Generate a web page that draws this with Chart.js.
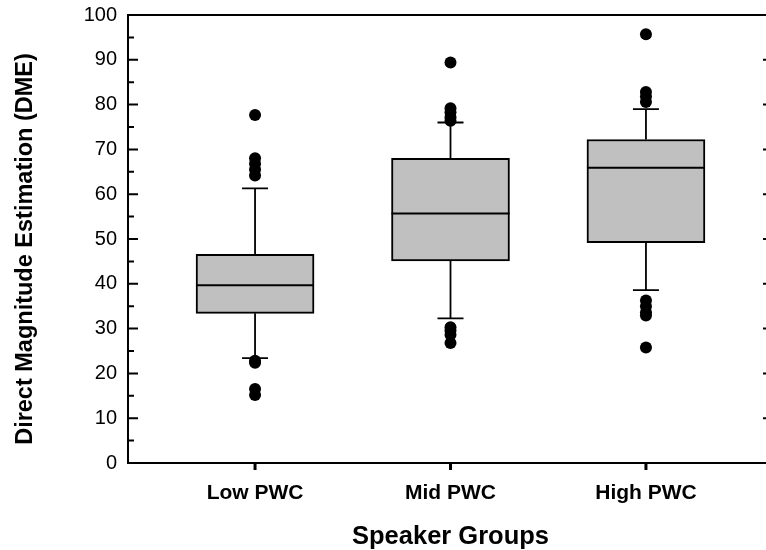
<!DOCTYPE html>
<html>
<head>
<meta charset="utf-8">
<script src="https://cdn.jsdelivr.net/npm/chart.js@4/dist/chart.umd.min.js"></script>
<style>
  html, body { margin: 0; padding: 0; background: #fff; overflow: hidden; }
  #wrap { width: 800px; height: 550px; }
</style>
</head>
<body>
<div id="wrap"><canvas id="boxChart" width="800" height="550"></canvas></div>
<script>
// data
const groups = ["Low PWC", "Mid PWC", "High PWC"];
const q1 = [33.4, 45.1, 49.2];
const median = [39.7, 55.7, 65.9];
const q3 = [46.6, 68.0, 72.2];
const whiskerLow = [23.4, 32.3, 38.6];
const whiskerHigh = [61.3, 76.0, 79.0];
const outliersLow = [77.7, 68.0, 66.8, 65.5, 64.2, 22.8, 22.4, 16.5, 15.2];
const outliersMid = [89.4, 79.2, 78.3, 77.2, 76.4, 30.3, 29.6, 28.6, 26.8];
const outliersHigh = [95.7, 82.8, 81.8, 80.6, 36.3, 35.0, 33.6, 32.9, 25.8];
const yTicks = [0, 10, 20, 30, 40, 50, 60, 70, 80, 90, 100];
const xTitle = "Speaker Groups";
const yTitle = "Direct Magnitude Estimation (DME)";

const FONT = "'Liberation Sans', Arial, sans-serif";

document.addEventListener("DOMContentLoaded", () => {
  const ctx = document.getElementById("boxChart").getContext("2d");

  const outlierPoints = [];
  [outliersLow, outliersMid, outliersHigh].forEach((list, i) => {
    list.forEach(v => outlierPoints.push({ x: i + 1, y: v }));
  });

  // whiskers, caps and medians, drawn right after the boxes
  const boxPlugin = {
    id: "boxExtras",
    afterDatasetDraw(chart, args) {
      if (args.meta.type !== "bar") return;
      const { ctx } = chart;
      const y = chart.scales.y;
      ctx.save();
      ctx.strokeStyle = "#000";
      args.meta.data.forEach((bar, i) => {
        const cx = bar.x;
        const half = bar.width / 2;
        ctx.lineWidth = 2;
        ctx.beginPath();
        ctx.moveTo(cx - half, y.getPixelForValue(median[i]));
        ctx.lineTo(cx + half, y.getPixelForValue(median[i]));
        ctx.stroke();

        ctx.lineWidth = 1.8;
        ctx.beginPath();
        ctx.moveTo(cx, y.getPixelForValue(q3[i]));
        ctx.lineTo(cx, y.getPixelForValue(whiskerHigh[i]));
        ctx.moveTo(cx - 13, y.getPixelForValue(whiskerHigh[i]));
        ctx.lineTo(cx + 13, y.getPixelForValue(whiskerHigh[i]));
        ctx.moveTo(cx, y.getPixelForValue(q1[i]));
        ctx.lineTo(cx, y.getPixelForValue(whiskerLow[i]));
        ctx.moveTo(cx - 13, y.getPixelForValue(whiskerLow[i]));
        ctx.lineTo(cx + 13, y.getPixelForValue(whiskerLow[i]));
        ctx.stroke();
      });
      ctx.restore();
    },
    // frame with inward ticks, plus axis titles
    afterDraw(chart) {
      const { ctx, chartArea: a, scales: { x, y } } = chart;
      ctx.save();
      ctx.strokeStyle = "#000";
      ctx.lineWidth = 2;
      ctx.beginPath();
      ctx.moveTo(a.left, a.top);
      ctx.lineTo(a.right, a.top);
      ctx.lineTo(a.right, a.bottom);
      ctx.lineTo(a.left, a.bottom);
      ctx.closePath();
      ctx.stroke();

      ctx.beginPath();
      yTicks.forEach((v, k) => {
        const py = y.getPixelForValue(v);
        ctx.moveTo(a.left, py); ctx.lineTo(a.left + 10, py);
        ctx.moveTo(a.right, py); ctx.lineTo(a.right - 10, py);
        if (k < yTicks.length - 1) {
          const pm = y.getPixelForValue((v + yTicks[k + 1]) / 2);
          ctx.moveTo(a.left, pm); ctx.lineTo(a.left + 6, pm);
          ctx.moveTo(a.right, pm); ctx.lineTo(a.right - 6, pm);
        }
      });
      ctx.stroke();

      ctx.lineWidth = 3;
      ctx.beginPath();
      groups.forEach((g, i) => {
        const px = x.getPixelForValue(i + 1);
        ctx.moveTo(px, a.bottom); ctx.lineTo(px, a.bottom + 7);
      });
      ctx.stroke();

      ctx.fillStyle = "#000";
      ctx.textAlign = "center";
      ctx.textBaseline = "middle";
      ctx.font = "bold 25.5px " + FONT;
      ctx.fillText(xTitle, (a.left + a.right) / 2, 537);
      ctx.translate(26, 249);
      ctx.rotate(-Math.PI / 2);
      ctx.font = "bold 23.5px " + FONT;
      ctx.fillText(yTitle, 0, 0);
      ctx.restore();
    }
  };

  new Chart(ctx, {
    type: "bar",
    data: {
      datasets: [
        {
          type: "bar",
          label: "IQR",
          data: groups.map((g, i) => ({ x: i + 1, y: [q1[i], q3[i]] })),
          backgroundColor: "#c0c0c0",
          borderColor: "#000",
          borderWidth: 2,
          borderSkipped: false,
          barThickness: 118,
          order: 2
        },
        {
          type: "scatter",
          label: "Outliers",
          data: outlierPoints,
          backgroundColor: "#000",
          borderColor: "#000",
          pointRadius: 6,
          pointBorderWidth: 0,
          order: 1
        }
      ]
    },
    options: {
      responsive: false,
      animation: false,
      layout: { padding: { top: 15, right: 27, left: 0, bottom: 0 } },
      plugins: { legend: { display: false }, tooltip: { enabled: false } },
      scales: {
        x: {
          type: "linear",
          offset: false,
          min: 0.35,
          max: 3.65,
          grid: { display: false, offset: false, drawTicks: false },
          border: { display: false },
          afterBuildTicks: s => { s.ticks = groups.map((g, i) => ({ value: i + 1 })); },
          afterFit: s => { s.height = 87; },
          ticks: {
            color: "#000",
            padding: 18,
            font: { family: FONT, size: 21, weight: "bold" },
            callback: v => groups[v - 1]
          }
        },
        y: {
          min: 0,
          max: 100,
          grid: { display: false, drawTicks: true, tickLength: 11 },
          border: { display: false },
          afterBuildTicks: s => { s.ticks = yTicks.map(v => ({ value: v })); },
          afterFit: s => { s.width = 128; },
          ticks: {
            color: "#000",
            padding: 0,
            font: { family: FONT, size: 20 }
          }
        }
      }
    },
    plugins: [boxPlugin]
  });
});
</script>
</body>
</html>
